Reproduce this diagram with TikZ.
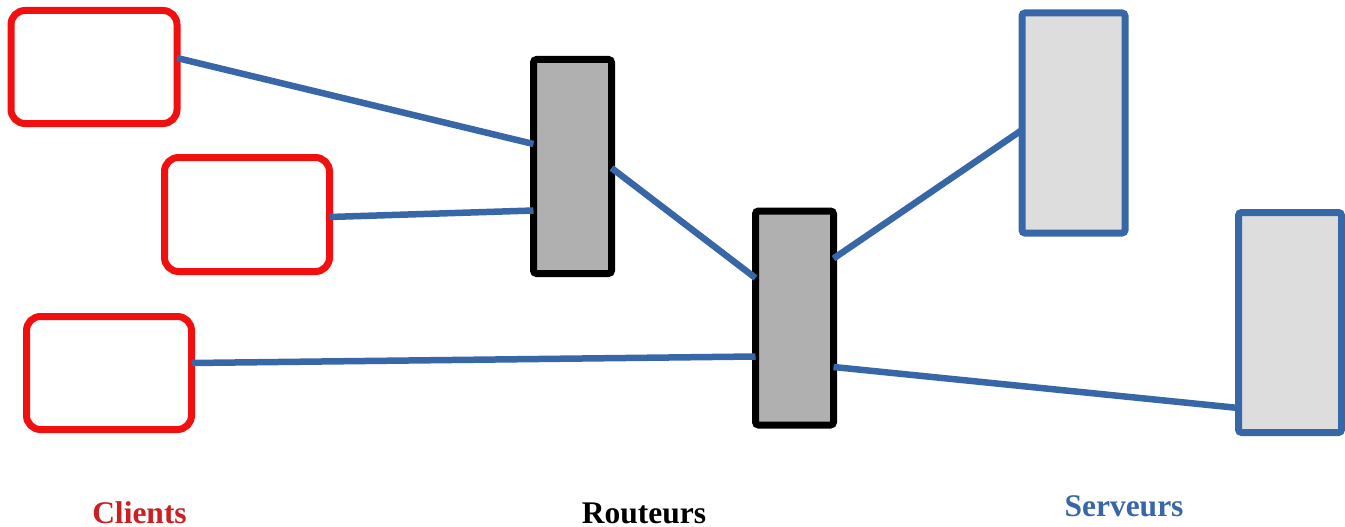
\documentclass[tikz,border=0pt]{standalone}
\usepackage{fontspec}
\setmainfont{Liberation Serif}
\definecolor{clientred}{HTML}{F20F0F}
\definecolor{clienttext}{HTML}{CC1F22}
\definecolor{linkblue}{HTML}{3867A8}
\definecolor{routerfill}{HTML}{B0B0B0}
\definecolor{serverfill}{HTML}{DDDDDD}
\tikzset{
  box/.style={rectangle, inner sep=0pt, outer sep=0pt, line width=7pt},
  client/.style={box, draw=clientred, fill=white, rounded corners=14pt},
  router/.style={box, draw=black, fill=routerfill, rounded corners=3pt,
    minimum width=78pt, minimum height=214pt},
  server/.style={box, draw=linkblue, fill=serverfill, rounded corners=3pt,
    minimum width=103pt, minimum height=220pt},
  link/.style={draw=linkblue, line width=6.5pt},
  caption/.style={anchor=base, font=\fontsize{31.5}{36}\selectfont\bfseries, inner sep=0pt}
}
\begin{document}
\begin{tikzpicture}[x=1pt, y=-1pt]
  \useasboundingbox (0,0) rectangle (1345,527);

  % clients
  \node[client, minimum width=166pt, minimum height=113pt] (C1) at (94,67) {};
  \node[client, minimum width=165pt, minimum height=114pt] (C2) at (247,214.5) {};
  \node[client, minimum width=165pt, minimum height=113pt] (C3) at (109,373) {};

  % routers
  \node[router] (R1) at (572.5,166.5) {};
  \node[router] (R2) at (794.5,318) {};

  % servers
  \node[server] (S1) at (1073.5,123) {};
  \node[server] (S2) at (1290,322.5) {};

  % links
  \draw[link] ([yshift=9pt]C1.east) -- ([yshift=22.5pt]R1.west);
  \draw[link] ([yshift=-2.5pt]C2.east) -- ([yshift=-44pt]R1.west);
  \draw[link] ([yshift=-1.5pt]R1.east) -- ([yshift=40pt]R2.west);
  \draw[link] ([yshift=10pt]C3.east) -- ([yshift=-38.5pt]R2.west);
  \draw[link] ([yshift=59.5pt]R2.east) -- ([yshift=-7pt]S1.west);
  \draw[link] ([yshift=-49pt]R2.east) -- ([yshift=-85.5pt]S2.west);

  % captions
  \node[caption, text=clienttext] (Lc) at (139.5,523) {Clients};
  \node[caption, text=black] (Lr) at (644,523) {Routeurs};
  \node[caption, text=linkblue] (Ls) at (1124,516) {Serveurs};
\end{tikzpicture}
\end{document}
